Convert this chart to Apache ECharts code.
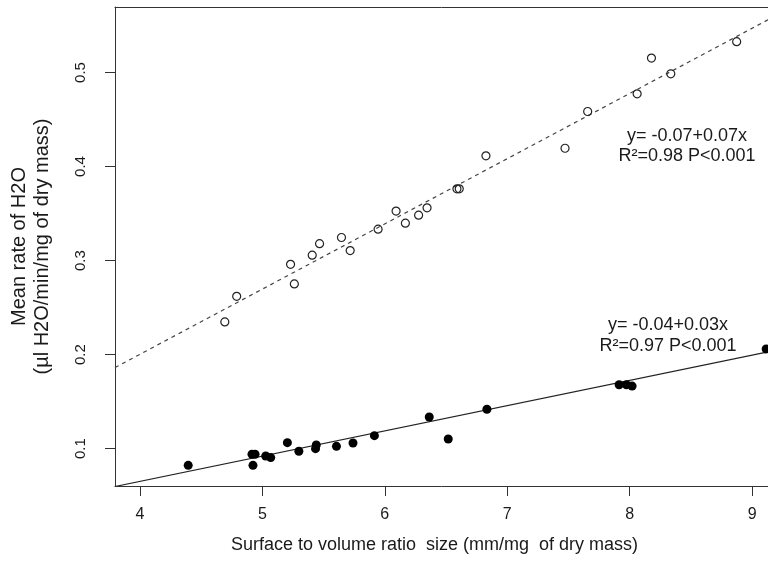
<!DOCTYPE html>
<html>
<head>
<meta charset="utf-8">
<script src="https://cdn.jsdelivr.net/npm/echarts@6/dist/echarts.min.js"></script>
<style>
html,body{margin:0;padding:0;background:#fff;}
#chart{width:768px;height:563px;}
</style>
</head>
<body>
<div id="chart"></div>
<script>
// ---- data ----
const xTicks = [4, 5, 6, 7, 8, 9];
const yTicks = [0.1, 0.2, 0.3, 0.4, 0.5];

const openX = [4.693, 4.79, 5.23, 5.261, 5.407, 5.467, 5.646, 5.717, 5.945, 6.092, 6.168, 6.276, 6.345, 6.589, 6.608, 6.826, 7.472, 7.657, 8.061, 8.178, 8.336, 8.874];
const openY = [0.2348, 0.262, 0.296, 0.2752, 0.3057, 0.318, 0.3245, 0.3106, 0.3334, 0.3526, 0.3398, 0.3483, 0.3561, 0.3763, 0.3763, 0.4114, 0.4194, 0.4585, 0.4773, 0.5153, 0.4986, 0.5327];

const filledX = [4.394, 4.915, 4.94, 4.923, 5.027, 5.068, 5.204, 5.298, 5.44, 5.434, 5.605, 5.74, 5.915, 6.363, 6.518, 6.834, 7.914, 7.974, 8.02, 9.115];
const filledY = [0.0823, 0.094, 0.094, 0.0823, 0.0922, 0.0905, 0.1064, 0.0972, 0.104, 0.100, 0.1025, 0.106, 0.1138, 0.1337, 0.1103, 0.1419, 0.168, 0.168, 0.1665, 0.206];

// fitted lines (end points)
const openFitX = [3.796, 9.13];
const openFitY = [0.1862, 0.556];
const filledFitX = [3.796, 9.13];
const filledFitY = [0.0598, 0.2029];

const openLabel = ['y= -0.07+0.07x', 'R\u00B2=0.98 P<0.001'];
const filledLabel = ['y= -0.04+0.03x', 'R\u00B2=0.97 P<0.001'];

const xTitle = 'Surface to volume ratio  size (mm/mg  of dry mass)';
const yTitle = ['Mean rate of H2O', '(\u00B5l H2O/min/mg of dry mass)'];

// ---- chart ----
const zip = (xs, ys) => xs.map((x, i) => [x, ys[i]]);
const FONT = '"Liberation Sans", Arial, sans-serif';
const AX = '#333';
const TXT = '#1a1a1a';

const chart = echarts.init(document.getElementById('chart'), null, {renderer: 'canvas'});
chart.setOption({
  animation: false,
  backgroundColor: '#fff',
  grid: {left: 114, right: 0, top: 7, bottom: 77},
  xAxis: [{
    type: 'value', min: 3.796, max: 9.13,
    axisLine: {show: true, onZero: false, lineStyle: {color: AX, width: 1}},
    axisTick: {show: true, length: 10, lineStyle: {color: AX}, customValues: xTicks},
    axisLabel: {show: true, margin: 21, color: TXT, fontSize: 16, fontFamily: FONT, customValues: xTicks},
    splitLine: {show: false},
    name: xTitle, nameLocation: 'middle', nameGap: 50,
    nameTextStyle: {color: TXT, fontSize: 18, fontFamily: FONT, padding: [0, 14, 0, 0]}
  }, {
    type: 'value', position: 'top', min: 3.796, max: 9.13,
    axisLine: {show: true, onZero: false, lineStyle: {color: AX, width: 1}},
    axisTick: {show: false}, axisLabel: {show: false}, splitLine: {show: false}
  }],
  yAxis: [{
    type: 'value', min: 0.0603, max: 0.5696,
    axisLine: {show: true, onZero: false, lineStyle: {color: AX, width: 1}},
    axisTick: {show: true, length: 10, lineStyle: {color: AX}, customValues: yTicks},
    axisLabel: {show: true, rotate: 90, margin: 27, color: TXT, fontSize: 15, fontFamily: FONT, customValues: yTicks},
    splitLine: {show: false},
    name: yTitle.join('\n'), nameLocation: 'middle', nameRotate: 90, nameGap: 61,
    nameTextStyle: {color: TXT, fontSize: 20, lineHeight: 23, fontFamily: FONT, align: 'center'}
  }],
  series: [{
    type: 'line', data: zip(openFitX, openFitY), symbol: 'none', clip: true,
    lineStyle: {color: '#444', width: 1.2, type: [4, 4]}, z: 1
  }, {
    type: 'line', data: zip(filledFitX, filledFitY), symbol: 'none', clip: true,
    lineStyle: {color: '#222', width: 1.2}, z: 1
  }, {
    type: 'scatter', data: zip(openX, openY), symbol: 'circle', symbolSize: 8,
    itemStyle: {color: 'rgba(0,0,0,0)', borderColor: '#222', borderWidth: 1.2, opacity: 1}, z: 3
  }, {
    type: 'scatter', data: zip(filledX, filledY), symbol: 'circle', symbolSize: 9,
    itemStyle: {color: '#000', opacity: 1}, z: 3
  }],
  graphic: [{
    type: 'text', x: 687, y: 126,
    style: {text: openLabel.join('\n'), fill: TXT, font: '18px ' + FONT, textAlign: 'center', lineHeight: 20}
  }, {
    type: 'text', x: 668, y: 315,
    style: {text: filledLabel.join('\n'), fill: TXT, font: '18px ' + FONT, textAlign: 'center', lineHeight: 21}
  }]
});
</script>
</body>
</html>
